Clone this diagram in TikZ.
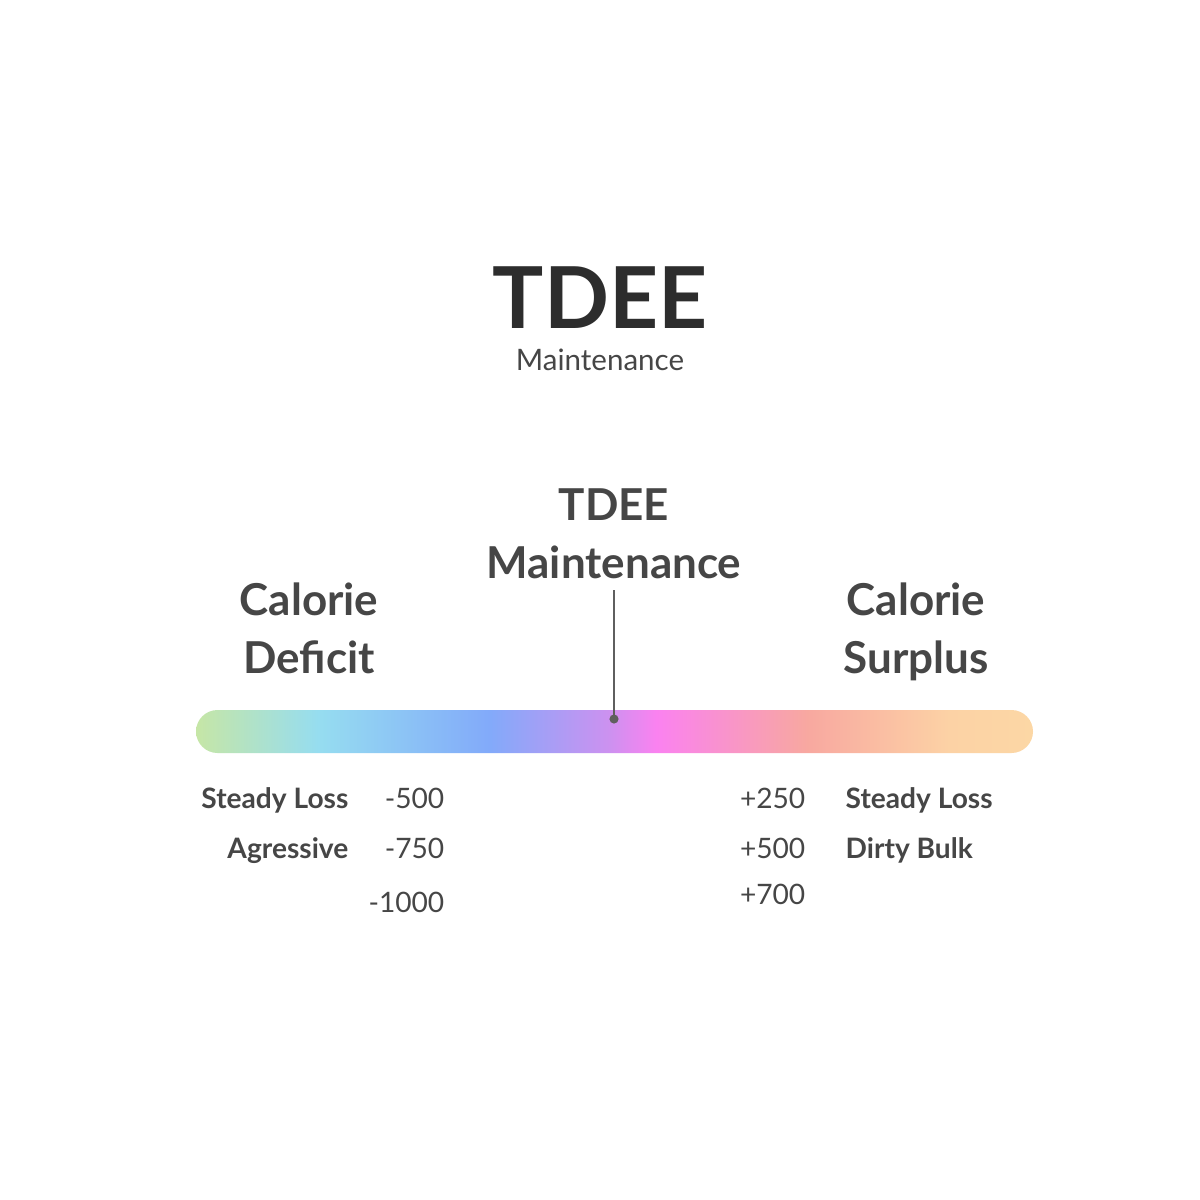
\documentclass[tikz,border=0pt]{standalone}
\usepackage{fontspec}
\setmainfont{Lato}
\usepackage{tikz}
\usepackage{xcolor}

\definecolor{ink}{RGB}{45,45,45}
\definecolor{txt}{RGB}{70,70,70}
\definecolor{pinline}{RGB}{95,95,95}
\definecolor{barA}{RGB}{198,230,166}
\definecolor{barB}{RGB}{150,221,240}
\definecolor{barC}{RGB}{130,170,250}
\definecolor{barD}{RGB}{205,145,240}
\definecolor{barE}{RGB}{250,130,240}
\definecolor{barF}{RGB}{248,168,160}
\definecolor{barG}{RGB}{252,210,165}
\definecolor{barH}{RGB}{252,215,165}
\pgfdeclarehorizontalshading{tdeebar}{100bp}{color(0bp)=(barA); color(25bp)=(barA);
  color(32.3bp)=(barB); color(42.5bp)=(barC); color(49.7bp)=(barD); color(52.5bp)=(barE);
  color(61.5bp)=(barF); color(70bp)=(barG); color(75bp)=(barH); color(100bp)=(barH)}

\begin{document}
\begin{tikzpicture}[x=0.01cm,y=-0.01cm,
  title/.style={anchor=base,inner sep=0pt,text=ink,font=\fontsize{24.3pt}{28pt}\selectfont\bfseries},
  subtitle/.style={anchor=base,inner sep=0pt,text=txt,font=\fontsize{8.4pt}{10pt}\selectfont},
  head/.style={anchor=base,inner sep=0pt,text=txt,font=\fontsize{12.5pt}{15pt}\selectfont\bfseries},
  goal/.style={inner sep=0pt,text=txt,font=\fontsize{8pt}{10pt}\selectfont\bfseries},
  kcal/.style={inner sep=0pt,text=txt,font=\fontsize{8pt}{10pt}\selectfont}]
\useasboundingbox[fill=white] (0,0) rectangle (1200,1200);
\node[title] (tdee) at (600,328) {TDEE};
\node[subtitle] (maint) at (600,370) {Maintenance};
\shade[shading=tdeebar,rounded corners=0.215cm] (196,710) rectangle (1033,753);
\node[head] (midA) at (614,520) {TDEE};
\node[head] (midB) at (614,578) {Maintenance};
\node[head] (defA) at (309,615) {Calorie};
\node[head] (defB) at (309,673) {Deficit};
\node[head] (surA) at (916,615) {Calorie};
\node[head] (surB) at (916,673) {Surplus};
\coordinate (top) at (614,590);
\coordinate (pin) at (614,719);
\draw[pinline,line width=0.45pt] (top) -- (pin);
\fill[pinline] (pin) circle (1.3pt);
\node[goal,anchor=base east] (lossL) at (349,808) {Steady Loss};
\node[goal,anchor=base east] (aggr) at (349,858) {Agressive};
\node[kcal,anchor=base east] (m500) at (445,808) {-500};
\node[kcal,anchor=base east] (m750) at (445,858) {-750};
\node[kcal,anchor=base east] (m1000) at (445,912) {-1000};
\node[kcal,anchor=base east] (p250) at (806,808) {+250};
\node[kcal,anchor=base east] (p500) at (806,858) {+500};
\node[kcal,anchor=base east] (p700) at (806,904) {+700};
\node[goal,anchor=base west] (lossR) at (845,808) {Steady Loss};
\node[goal,anchor=base west] (bulk) at (845,858) {Dirty Bulk};
\end{tikzpicture}
\end{document}
